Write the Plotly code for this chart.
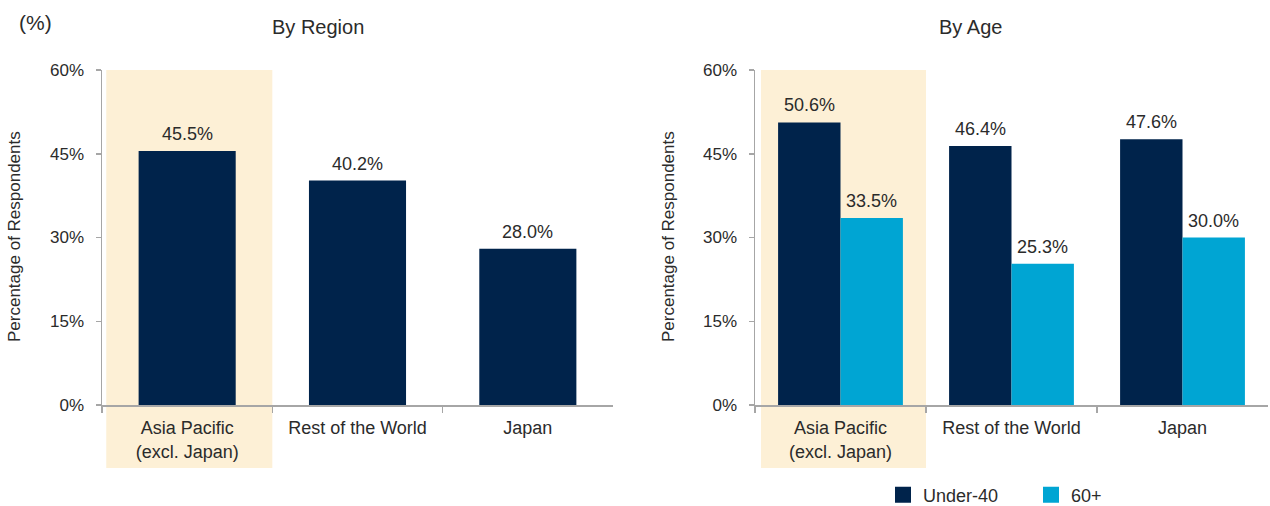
import plotly.graph_objects as go

# ---- data ----
region_categories = ["Asia Pacific<br>(excl. Japan)", "Rest of the World", "Japan"]
region_values = [45.5, 40.2, 28.0]

age_categories = ["Asia Pacific<br>(excl. Japan)", "Rest of the World", "Japan"]
under40_values = [50.6, 46.4, 47.6]
over60_values = [33.5, 25.3, 30.0]

y_ticks = [0, 15, 30, 45, 60]
y_tick_labels = ["0%", "15%", "30%", "45%", "60%"]

NAVY = "#00234B"
BLUE = "#00A5D3"
BAND = "#FDF0D6"
TXT = "#2B2B2B"
AX = "#A6A6A6"
FONT = "Liberation Sans"

W, H = 1270, 506
T, B = 70, 101
plot_h = H - T - B
BARGAP = 0.27
REGION_WIDTH = 0.57


def py(pix):
    return (H - B - pix) / plot_h


fig = go.Figure()

fig.add_trace(go.Bar(
    x=region_categories, y=region_values, width=REGION_WIDTH,
    marker=dict(color=NAVY, line=dict(width=0)),
    showlegend=False, xaxis="x", yaxis="y",
))
fig.add_trace(go.Bar(
    x=age_categories, y=under40_values, name="Under-40",
    marker=dict(color=NAVY, line=dict(width=0)),
    showlegend=False, xaxis="x2", yaxis="y2",
))
fig.add_trace(go.Bar(
    x=age_categories, y=over60_values, name="60+",
    marker=dict(color=BLUE, line=dict(width=0)),
    showlegend=False, xaxis="x2", yaxis="y2",
))
# legend entries
for name, col in [("Under-40", NAVY), ("60+", BLUE)]:
    fig.add_trace(go.Scatter(
        x=[None], y=[None], mode="markers", name=name,
        marker=dict(symbol="square", size=18, color=col),
        xaxis="x2", yaxis="y2", showlegend=True,
    ))

# value labels
lab_font = dict(size=18, color=TXT, family=FONT)
for i, v in enumerate(region_values):
    fig.add_annotation(x=i, y=v, xref="x", yref="y", text=f"{v:.1f}%", showarrow=False,
                       yanchor="bottom", yshift=5, font=lab_font)
half = (1 - BARGAP) / 4
for series, sign in [(under40_values, -1), (over60_values, 1)]:
    for i, v in enumerate(series):
        fig.add_annotation(x=i + sign * half, y=v, xref="x2", yref="y2", text=f"{v:.1f}%",
                           showarrow=False, yanchor="bottom", yshift=5, font=lab_font)

xaxis_common = dict(
    type="category", range=[-0.5, 2.5], showline=True, linecolor=AX, linewidth=1.5,
    ticks="outside", tickson="boundaries", ticklen=6, tickcolor=AX, tickwidth=1.5,
    showgrid=False, zeroline=False, fixedrange=True, automargin=False,
    tickfont=dict(size=18, color=TXT, family=FONT), ticklabelstandoff=6,
)
yaxis_common = dict(
    range=[0, 60], tickvals=y_ticks, ticktext=y_tick_labels,
    showline=True, linecolor=AX, linewidth=1.5,
    ticks="outside", ticklen=5, tickcolor=AX, tickwidth=1.5,
    showgrid=False, zeroline=False, automargin=False, fixedrange=True,
    tickfont=dict(size=17, color=TXT, family=FONT), ticklabelstandoff=8,
)

fig.update_layout(
    width=W, height=H,
    margin=dict(l=0, r=0, t=T, b=B, autoexpand=False),
    paper_bgcolor="white", plot_bgcolor="rgba(0,0,0,0)",
    barmode="group", bargap=BARGAP, bargroupgap=0,
    xaxis=dict(domain=[102 / W, 613 / W], anchor="y", **xaxis_common),
    yaxis=dict(domain=[0, 1], anchor="x", **yaxis_common),
    xaxis2=dict(domain=[755 / W, 1268 / W], anchor="y2", **xaxis_common),
    yaxis2=dict(domain=[0, 1], anchor="x2", **yaxis_common),
    showlegend=True,
    legend=dict(orientation="h", x=883 / W, xanchor="left", xref="container",
                y=1 - 495 / H, yanchor="middle", yref="container",
                font=dict(size=18, color=TXT, family=FONT), itemwidth=30,
                entrywidth=103, entrywidthmode="pixels",
                bgcolor="rgba(0,0,0,0)", tracegroupgap=0),
    font=dict(family=FONT, color=TXT),
)

# highlight bands
fig.add_shape(type="rect", xref="x", yref="paper", x0=-0.475, x1=0.5, y0=py(468), y1=1,
              fillcolor=BAND, line=dict(width=0), layer="below")
fig.add_shape(type="rect", xref="x2", yref="paper", x0=-0.465, x1=0.5, y0=py(468), y1=1,
              fillcolor=BAND, line=dict(width=0), layer="below")

anns = [
    dict(text="(%)", x=35 / W, y=py(22), size=21),
    dict(text="By Region", x=318 / W, y=py(27), size=20),
    dict(text="By Age", x=970 / W, y=py(27), size=20),
]
for a in anns:
    fig.add_annotation(text=a["text"], x=a["x"], y=a["y"], xref="paper", yref="paper",
                       xanchor="center", yanchor="middle", showarrow=False,
                       font=dict(size=a["size"], color=TXT, family=FONT))
for xp in [14, 668]:
    fig.add_annotation(text="Percentage of Respondents", x=xp / W, y=py(237), xref="paper",
                       yref="paper", xanchor="center", yanchor="middle", textangle=-90,
                       showarrow=False, font=dict(size=17, color=TXT, family=FONT))

fig.write_html("out.html", config={"displayModeBar": False, "staticPlot": True},
               post_script="document.body.style.margin='0';document.body.style.overflow='hidden';")
